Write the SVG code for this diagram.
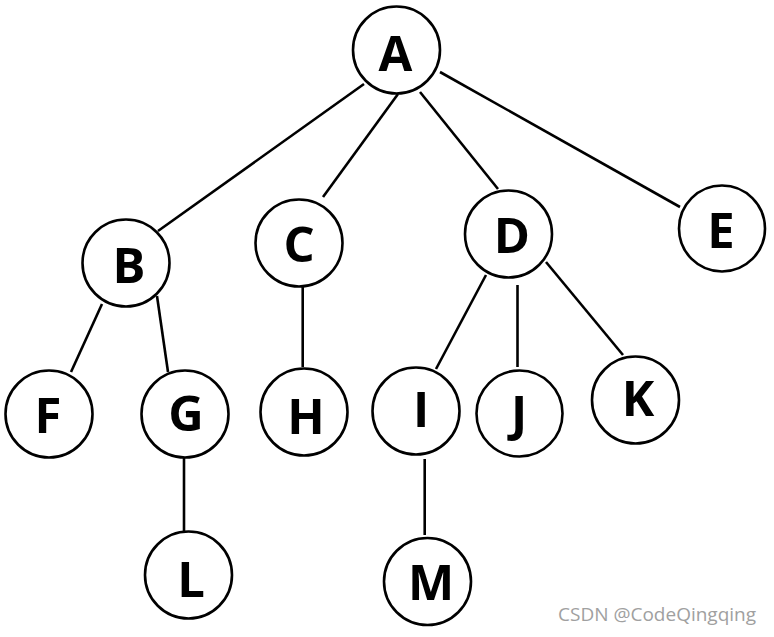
<svg xmlns="http://www.w3.org/2000/svg" width="774" height="637" viewBox="0 0 774 637">
<style>
.node circle{fill:#fff;stroke:#000;stroke-width:2.6}
.node text{font-family:"Open Sans","Liberation Sans",sans-serif;font-weight:bold;font-size:49px;text-anchor:middle;fill:#000}
.edges line{stroke:#000;stroke-width:2.6}
.wm{font-family:"Open Sans","Liberation Sans",sans-serif;font-size:19px;fill:#a0a0a0}
</style>
<rect width="774" height="637" fill="#fff"/>
<g class="edges" id="edges">
<line x1="364" y1="84" x2="158" y2="231"/>
<line x1="398" y1="94" x2="323" y2="197"/>
<line x1="420" y1="92" x2="498" y2="189"/>
<line x1="440" y1="72" x2="680" y2="207"/>
<line x1="102" y1="304" x2="71" y2="372"/>
<line x1="157" y1="296" x2="168" y2="372"/>
<line x1="302.7" y1="283" x2="302.7" y2="367"/>
<line x1="486" y1="275" x2="436" y2="369"/>
<line x1="517.5" y1="285" x2="517.5" y2="367"/>
<line x1="546" y1="262" x2="623" y2="355"/>
<line x1="184" y1="458" x2="184" y2="534"/>
<line x1="424.7" y1="459" x2="424.7" y2="535"/>
</g>
<g class="node" id="A"><circle cx="396.5" cy="50" r="43.5"/><text x="395.5" y="71">A</text></g>
<g class="node" id="B"><circle cx="126" cy="263" r="43.5"/><text x="129" y="283">B</text></g>
<g class="node" id="C"><circle cx="299" cy="243" r="43.5"/><text x="299" y="262">C</text></g>
<g class="node" id="D"><circle cx="508.5" cy="234" r="43.5"/><text x="512" y="253">D</text></g>
<g class="node" id="E"><circle cx="722" cy="228.5" r="43"/><text x="721" y="248">E</text></g>
<g class="node" id="F"><circle cx="49" cy="414" r="43.5"/><text x="48" y="433">F</text></g>
<g class="node" id="G"><circle cx="185" cy="414" r="43.5"/><text x="186" y="431">G</text></g>
<g class="node" id="H"><circle cx="304" cy="412" r="43.5"/><text x="306" y="434">H</text></g>
<g class="node" id="I"><circle cx="416" cy="411" r="43.5"/><text x="421" y="427">I</text></g>
<g class="node" id="J"><circle cx="519.5" cy="413.5" r="43"/><text x="519" y="431">J</text></g>
<g class="node" id="K"><circle cx="635.5" cy="400" r="43.5"/><text x="638" y="416">K</text></g>
<g class="node" id="L"><circle cx="188.5" cy="575" r="43.5"/><text x="191" y="597">L</text></g>
<g class="node" id="M"><circle cx="427.5" cy="581.5" r="43.5"/><text x="431" y="600">M</text></g>
<text class="wm" x="558" y="621">CSDN @CodeQingqing</text>
</svg>
